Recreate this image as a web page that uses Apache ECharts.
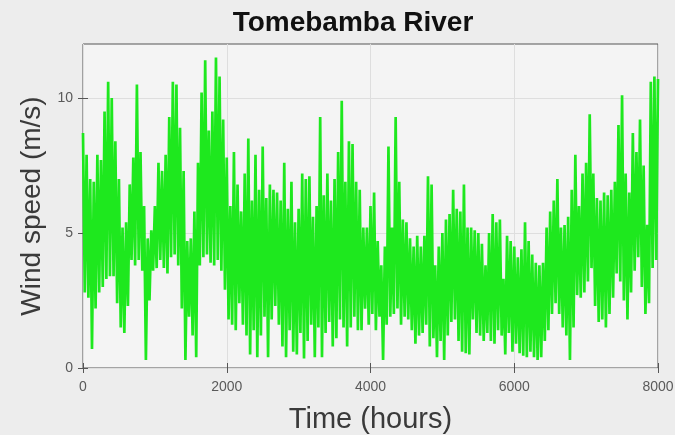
<!DOCTYPE html>
<html>
<head>
<meta charset="utf-8">
<script src="https://cdn.jsdelivr.net/npm/echarts@6/dist/echarts.min.js"></script>
<style>
html,body{margin:0;padding:0;background:#ededed;}
#chart{width:675px;height:435px;}
</style>
</head>
<body>
<div id="chart"></div>
<script>
// Wind speed peaks (m/s) read at hours 0, 50, 100, ... 8000
var peakSpeed = [
  8.7, 7.9, 7.0, 6.9, 7.9, 7.7, 9.5, 10.6, 10.0, 8.4,
  7.0, 5.2, 5.4, 6.8, 7.8, 10.5, 8.0, 6.0, 4.8, 5.1,
  6.0, 7.6, 7.3, 7.9, 9.3, 10.6, 10.5, 8.9, 7.3, 4.7,
  4.8, 5.8, 7.6, 10.2, 11.4, 8.8, 9.5, 11.5, 10.8, 9.2,
  7.8, 6.0, 8.0, 6.8, 5.8, 7.2, 8.5, 6.2, 7.9, 6.6,
  8.2, 6.3, 6.8, 6.6, 6.5, 6.2, 7.6, 5.9, 6.9, 5.4,
  5.9, 7.2, 7.0, 7.1, 5.6, 6.0, 9.3, 6.4, 7.2, 6.2,
  7.0, 8.0, 9.9, 6.9, 8.4, 8.3, 6.9, 6.6, 5.2, 5.2,
  6.0, 6.5, 4.7, 3.8, 4.5, 8.2, 5.2, 9.3, 6.9, 5.5,
  5.4, 4.8, 4.5, 4.9, 4.5, 4.9, 7.1, 6.8, 3.8, 4.5,
  5.0, 5.5, 5.7, 6.6, 5.9, 5.8, 6.8, 5.2, 5.2, 5.1,
  5.0, 4.6, 3.8, 5.0, 5.7, 5.4, 5.5, 3.3, 4.9, 4.7,
  4.5, 4.1, 4.4, 5.4, 4.7, 4.2, 3.9, 3.8, 3.9, 5.2,
  5.8, 6.2, 7.0, 5.2, 5.3, 5.6, 6.6, 7.9, 6.0, 7.2,
  7.6, 9.4, 7.2, 6.3, 6.2, 6.5, 6.4, 6.6, 6.9, 9.0,
  10.1, 7.2, 6.5, 8.7, 8.0, 9.2, 7.5, 5.3, 10.6, 10.8,
  10.7
];
// Wind speed lulls (m/s) read at hours 25, 75, 125, ... 7975
var lullSpeed = [
  2.8, 2.6, 0.7, 2.2, 2.8, 3.0, 3.3, 3.4, 3.4, 2.4,
  1.5, 1.3, 2.3, 4.0, 3.8, 4.0, 3.6, 0.3, 2.5, 3.6,
  3.7, 4.0, 3.7, 3.5, 4.1, 4.2, 3.8, 2.2, 0.3, 1.9,
  1.2, 0.4, 3.8, 4.1, 4.2, 3.9, 3.8, 4.0, 3.6, 2.9,
  1.8, 1.6, 1.4, 2.4, 1.6, 1.2, 0.5, 1.4, 0.4, 1.2,
  1.9, 0.4, 1.8, 2.3, 1.6, 0.8, 0.4, 1.4, 0.6, 0.5,
  1.3, 0.35, 1.0, 1.6, 0.4, 1.5, 0.4, 1.3, 1.7, 0.8,
  1.1, 1.8, 1.5, 0.8, 1.5, 1.9, 1.4, 1.4, 2.2, 1.6,
  2.0, 1.4, 1.9, 0.3, 1.6, 1.9, 2.0, 2.2, 1.6, 1.9,
  1.8, 1.4, 0.9, 1.2, 1.3, 1.6, 0.8, 1.1, 0.4, 1.0,
  0.3, 1.2, 1.7, 1.8, 1.0, 0.6, 0.55, 0.5, 1.8, 1.3,
  1.2, 1.0, 1.3, 1.0, 0.9, 1.4, 1.2, 0.5, 1.3, 0.6,
  0.9, 0.55, 0.45, 0.4, 0.6, 0.4, 0.3, 0.4, 1.0, 1.4,
  2.0, 2.4, 2.0, 1.5, 1.2, 0.3, 1.5, 2.7, 2.6, 2.8,
  3.2, 3.7, 2.3, 1.7, 1.8, 1.5, 2.0, 2.6, 3.5, 3.2,
  2.5, 1.8, 2.8, 3.6, 4.1, 3.0, 2.0, 2.4, 3.7, 4.0
];
var xTicks = [0, 2000, 4000, 6000, 8000];
var yTicks = [0, 5, 10];
var titleText = 'Tomebamba River';
var xName = 'Time (hours)';
var yName = 'Wind speed (m/s)';
var sampleStep = 25; // hours between successive readings

// Build the series: peaks and lulls alternate in time
var seriesData = [];
for (var i = 0; i < peakSpeed.length; i++) {
  seriesData.push([i * 2 * sampleStep, peakSpeed[i]]);
  if (i < lullSpeed.length) {
    seriesData.push([(i * 2 + 1) * sampleStep, lullSpeed[i]]);
  }
}

var chart = echarts.init(document.getElementById('chart'), null, {renderer: 'canvas'});
var FONT = 'Liberation Sans, Arial, sans-serif';
var plain = function (v) { return String(v); };
var tickFont = {fontFamily: FONT, fontSize: 14, color: '#5a5a5a', formatter: plain};
var gridLine = {show: true, lineStyle: {color: '#dedede', width: 1}};
var tickStyle = {show: true, inside: true, length: 5, lineStyle: {color: '#555'}};
chart.setOption({
  backgroundColor: '#ededed',
  animation: false,
  title: {
    text: titleText,
    left: 353,
    top: 9,
    padding: 0,
    textAlign: 'center',
    textStyle: {fontFamily: FONT, fontWeight: 'bold', fontSize: 28, color: '#111'}
  },
  grid: {
    left: 83, right: 17, top: 44, bottom: 67,
    containLabel: false,
    outerBoundsMode: 'none',
    show: true, backgroundColor: '#f4f4f4', borderColor: '#555', borderWidth: 1
  },
  xAxis: [{
    type: 'value', min: 0, max: 8000, interval: 2000,
    position: 'bottom',
    axisLine: {show: false},
    axisTick: Object.assign({customValues: xTicks}, tickStyle),
    axisLabel: Object.assign({margin: 12, customValues: xTicks}, tickFont),
    splitLine: gridLine,
    name: xName, nameLocation: 'middle', nameGap: 37,
    nameTextStyle: {fontFamily: FONT, fontSize: 29, color: '#3a3a3a'}
  }, {
    type: 'value', min: 0, max: 8000, interval: 2000,
    position: 'top',
    axisLine: {show: false},
    axisTick: Object.assign({customValues: xTicks}, tickStyle),
    axisLabel: {show: false},
    splitLine: {show: false}
  }],
  yAxis: [{
    type: 'value', min: 0, max: 12, interval: 5,
    position: 'left',
    axisLine: {show: false},
    axisTick: Object.assign({customValues: yTicks}, tickStyle),
    axisLabel: Object.assign({margin: 10, customValues: yTicks}, tickFont),
    splitLine: gridLine,
    name: yName, nameLocation: 'middle', nameGap: 36,
    nameTextStyle: {fontFamily: FONT, fontSize: 28, color: '#3a3a3a'}
  }, {
    type: 'value', min: 0, max: 12, interval: 5,
    position: 'right',
    axisLine: {show: false},
    axisTick: Object.assign({customValues: yTicks}, tickStyle),
    axisLabel: {show: false},
    splitLine: {show: false}
  }],
  series: [{
    type: 'line',
    xAxisIndex: 0, yAxisIndex: 0,
    data: seriesData,
    showSymbol: false,
    symbol: 'none',
    sampling: null,
    lineStyle: {color: '#1ee81e', width: 2.7, join: 'bevel'},
    z: 3
  }]
});
</script>
</body>
</html>
